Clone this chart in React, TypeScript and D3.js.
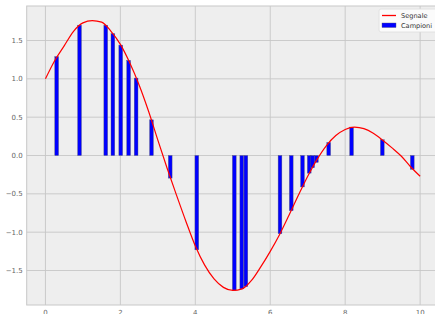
import * as React from 'react'
import { useEffect, useRef } from 'react'
import * as d3 from 'd3'

// red signal curve, every 0.25
const signalX = [0, 0.25, 0.5, 0.75, 1, 1.25, 1.5, 1.75, 2, 2.25, 2.5, 2.75, 3, 3.25, 3.5, 3.75, 4, 4.25, 4.5, 4.75, 5,
    5.25, 5.5, 5.75, 6, 6.25, 6.5, 6.75, 7, 7.25, 7.5, 7.75, 8, 8.25, 8.5, 8.75, 9, 9.25, 9.5, 9.75, 10]
const signalY = [1.0, 1.24, 1.43, 1.62, 1.73, 1.76, 1.74, 1.62, 1.45, 1.21, 0.92, 0.58, 0.2, -0.17, -0.52, -0.86, -1.18,
    -1.43, -1.61, -1.72, -1.76, -1.74, -1.63, -1.45, -1.25, -1.03, -0.78, -0.52, -0.27, -0.05, 0.13, 0.26, 0.34, 0.37,
    0.35, 0.29, 0.2, 0.1, -0.01, -0.15, -0.27]

// blue samples
const sampleX = [0.3, 0.91, 1.61, 1.8, 2.01, 2.22, 2.42, 2.83, 3.33, 4.04, 5.04, 5.24, 5.35, 6.26, 6.56, 6.86, 7.04,
    7.13, 7.23, 7.56, 8.17, 8.99, 9.79]
const sampleY = [1.29, 1.7, 1.7, 1.59, 1.44, 1.24, 1.01, 0.465, -0.295, -1.23, -1.76, -1.74, -1.71, -1.02, -0.72, -0.41,
    -0.23, -0.16, -0.09, 0.17, 0.37, 0.205, -0.18]

const xTicks = [0, 2, 4, 6, 8, 10]
const yTicks = [-1.5, -1.0, -0.5, 0.0, 0.5, 1.0, 1.5]
const legendLabels = ['Segnale', 'Campioni']

const width = 435
const height = 314

const App = () => {
    const chartRef = useRef<SVGSVGElement>(null)

    useEffect(() => {
        const svg = d3.select(chartRef.current)
        svg.selectAll('*').remove()

        const left = 26.7, top = 6, bottom = 305
        const xScale = d3.scaleLinear().domain([-0.5, 10.5]).range([left, left + 11 * 37.47])
        const yScale = d3.scaleLinear().domain([-1.95, 1.95]).range([bottom, top])
        const right = width + 5

        svg.append('rect')
            .attr('x', left).attr('y', top)
            .attr('width', right - left).attr('height', bottom - top)
            .attr('fill', '#eeeeee')

        // grid
        svg.append('g').selectAll('line')
            .data(xTicks).enter().append('line')
            .attr('x1', d => xScale(d)).attr('x2', d => xScale(d))
            .attr('y1', top).attr('y2', bottom)
            .attr('stroke', '#c6c6c6').attr('stroke-width', 0.9)
        svg.append('g').selectAll('line')
            .data(yTicks).enter().append('line')
            .attr('x1', left).attr('x2', right)
            .attr('y1', d => yScale(d)).attr('y2', d => yScale(d))
            .attr('stroke', '#c6c6c6').attr('stroke-width', 0.9)

        // frame
        svg.append('rect')
            .attr('x', left).attr('y', top)
            .attr('width', right - left).attr('height', bottom - top)
            .attr('fill', 'none').attr('stroke', '#c8c8c8').attr('stroke-width', 1)

        // tick labels
        svg.append('g').selectAll('text')
            .data(yTicks).enter().append('text')
            .attr('x', left - 4).attr('y', d => yScale(d))
            .attr('dy', '0.35em')
            .attr('text-anchor', 'end')
            .style('font-family', 'DejaVu Sans, sans-serif')
            .style('font-size', '7px')
            .attr('fill', '#666')
            .text(d => d3.format('.1f')(d).replace('-', '\u2212'))
        svg.append('g').selectAll('text')
            .data(xTicks).enter().append('text')
            .attr('x', d => xScale(d)).attr('y', bottom + 9.5)
            .attr('text-anchor', 'middle')
            .style('font-family', 'DejaVu Sans, sans-serif')
            .style('font-size', '7px')
            .attr('fill', '#666')
            .text(d => d)

        // samples
        const barW = xScale(0.1) - xScale(0)
        svg.append('g').selectAll('rect')
            .data(sampleX).enter().append('rect')
            .attr('x', (d) => xScale(d) - barW / 2)
            .attr('y', (d, i) => yScale(Math.max(0, sampleY[i])))
            .attr('width', barW)
            .attr('height', (d, i) => Math.abs(yScale(sampleY[i]) - yScale(0)))
            .attr('fill', '#0000ff')
            .attr('stroke', '#555577').attr('stroke-width', 0.4)

        // signal
        const line = d3.line<number>()
            .x(d => xScale(d))
            .y((d, i) => yScale(signalY[i]))
            .curve(d3.curveMonotoneX)
        svg.append('path')
            .attr('d', line(signalX))
            .attr('fill', 'none')
            .attr('stroke', '#ff0000')
            .attr('stroke-width', 1.2)

        // legend
        const lg = svg.append('g').attr('transform', 'translate(379, 9)')
        lg.append('rect')
            .attr('x', 0).attr('y', 0).attr('width', 60).attr('height', 23).attr('rx', 2)
            .attr('fill', '#fbfbfb').attr('stroke', '#dddddd').attr('stroke-width', 0.8)
        lg.append('line')
            .attr('x1', 3).attr('x2', 17).attr('y1', 6.5).attr('y2', 6.5)
            .attr('stroke', '#ff0000').attr('stroke-width', 1.3)
        lg.append('rect')
            .attr('x', 3).attr('y', 14).attr('width', 14).attr('height', 4.5)
            .attr('fill', '#0000ff').attr('stroke', '#555577').attr('stroke-width', 0.4)
        lg.selectAll('text.lab')
            .data(legendLabels).enter().append('text')
            .attr('class', 'lab')
            .attr('x', 22).attr('y', (d, i) => 6.5 + i * 10)
            .attr('dy', '0.35em')
            .style('font-family', 'DejaVu Sans, sans-serif')
            .style('font-size', '6.6px')
            .attr('fill', '#333')
            .text(d => d)
    }, [])

    return (
        <svg ref={chartRef} width={width} height={height}
            style={{ position: 'absolute', left: 0, top: 0, background: '#ffffff' }}></svg>
    )
}

export default App
